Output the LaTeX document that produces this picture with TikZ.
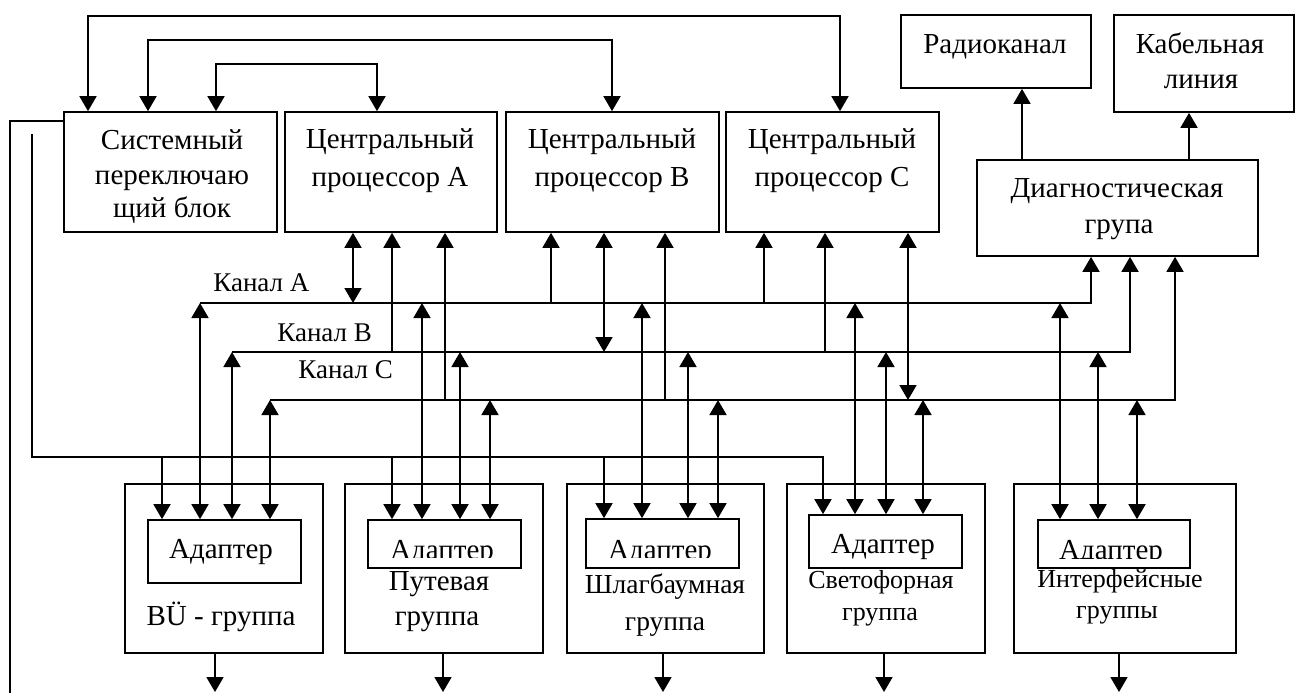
\documentclass[tikz,border=0pt]{standalone}
\usepackage{fontspec}
\setmainfont{Liberation Serif}
\usetikzlibrary{arrows.meta}
\newcommand{\fsMain}{\fontsize{14.5pt}{17pt}\selectfont}
\newcommand{\fsChan}{\fontsize{13.5pt}{16pt}\selectfont}
\newcommand{\fsSmall}{\fontsize{13pt}{16pt}\selectfont}
\newcommand{\fsShl}{\fontsize{13.75pt}{16pt}\selectfont}
\begin{document}
\begin{tikzpicture}[x=0.5pt,y=-0.5pt,
  blk/.style 2 args={draw, line width=0.85pt, inner sep=0pt, minimum width=#1*0.5pt, minimum height=#2*0.5pt},
  txt/.style={inner sep=0pt, anchor=base, font=\fsMain},
  conn/.style={line width=0.85pt, >={Triangle[length=7.5pt,width=8.5pt]}},
]
\useasboundingbox (0,0) rectangle (1295,693);

% ---------- top boxes ----------
\node[blk={213}{120}] (sw)   at (170.5,172) {};
\node[blk={212}{120}] (cpuA) at (391,172) {};
\node[blk={213}{120}] (cpuB) at (612.5,172) {};
\node[blk={213}{120}] (cpuC) at (832.5,172) {};
\node[blk={190}{73}]  (radio) at (996,51.5) {};
\node[blk={180}{97}]  (cable) at (1204,63.5) {};
\node[blk={281}{96}]  (diag) at (1117.5,208) {};

\node[txt] (sw1) at (172,149) {Системный};
\node[txt] (sw2) at (172,184) {переключаю};
\node[txt] (sw3) at (172,217) {щий блок};
\node[txt] (ca1) at (390,148) {Центральный};
\node[txt] (ca2) at (390,186) {процессор A};
\node[txt] (cb1) at (612,148) {Центральный};
\node[txt] (cb2) at (612,186) {процессор B};
\node[txt] (cc1) at (832,148) {Центральный};
\node[txt] (cc2) at (832,186) {процессор C};
\node[txt] (rd1) at (995,53) {Радиоканал};
\node[txt] (cl1) at (1200,53) {Кабельная};
\node[txt] (cl2) at (1201,88) {линия};
\node[txt] (dg1) at (1117,197) {Диагностическая};
\node[txt] (dg2) at (1119,233) {група};

% ---------- bottom boxes ----------
\node[blk={198}{169}] (bu)   at (224,568.5) {};
\node[blk={198}{169}] (put)  at (444,568.5) {};
\node[blk={197}{169}] (shl)  at (665.5,568.5) {};
\node[blk={198}{169}] (svet) at (886,568.5) {};
\node[blk={222}{169}] (intf) at (1125,568.5) {};

\node[blk={153}{63}] (aBU)   at (224.5,551.5) {};
\node[blk={153}{48}] (aPut)  at (444.5,544) {};
\node[blk={153}{49}] (aShl)  at (662.5,543.5) {};
\node[blk={153}{53}] (aSvet) at (885.5,541.5) {};
\node[blk={152}{48}] (aIntf) at (1114,544) {};

\node[txt] (aBUt) at (221,558) {Адаптер};
\begin{scope}
  \clip (369,521) rectangle (520,557);
  \node[txt] (aPutt) at (442,559) {Адаптер};
\end{scope}
\begin{scope}
  \clip (587,520) rectangle (738,557);
  \node[txt] (aShlt) at (660,559) {Адаптер};
\end{scope}
\node[txt] (aSvett) at (883,553) {Адаптер};
\begin{scope}
  \clip (1039,521) rectangle (1189,558);
  \node[txt] (aIntft) at (1111,559) {Адаптер};
\end{scope}

\node[txt] (bu1) at (221,625) {BÜ - группа};
\node[txt] (pu1) at (439,590) {Путевая};
\node[txt] (pu2) at (437,625) {группа};
\node[txt,font=\fsShl] (sh1) at (665,593) {Шлагбаумная};
\node[txt,font=\fsShl] (sh2) at (665,630) {группа};
\node[txt,font=\fsSmall] (sv1) at (881,588) {Светофорная};
\node[txt,font=\fsSmall] (sv2) at (880,620) {группа};
\node[txt,font=\fsSmall] (in1) at (1120,587) {Интерфейсные};
\node[txt,font=\fsSmall] (in2) at (1117,618) {группы};

% ---------- channel labels ----------
\node[txt,font=\fsChan,anchor=base west] (lA) at (213,291) {Канал A};
\node[txt,font=\fsChan,anchor=base west] (lB) at (277,341) {Канал B};
\node[txt,font=\fsChan,anchor=base west] (lC) at (298,378) {Канал C};

% ---------- coordinates ----------
\coordinate (chA) at (200,303);
\coordinate (chB) at (232,352);
\coordinate (chC) at (270,400);
\coordinate (swD) at (32,134);
\coordinate (dBus) at (32,457);
\coordinate (outL) at (10,693);

\begin{scope}[conn]
% top feedback loops
\draw[<->] (sw.north -| 88,0) |- (840,16) -- (cpuC.north -| 840,0);
\draw[<->] (sw.north -| 148,0) |- (612,40) -- (cpuB.north -| 612,0);
\draw[<->] (sw.north -| 216,0) |- (377,64) -- (cpuA.north -| 377,0);

% left lines
\draw (sw.west |- 0,121) -| (outL);
\draw[->] (swD) -- (dBus) -| (aSvet.north -| 823,0);

% channel buses
\draw[->] (chA) -| (diag.south -| 1091,0);
\draw[->] (chB) -| (diag.south -| 1130,0);
\draw[->] (chC) -| (diag.south -| 1175,0);

% CPU connections
\draw[<->] (cpuA.south -| 353,0) -- (353,0 |- chA);
\draw[->] (392,0 |- chB) -- (cpuA.south -| 392,0);
\draw[->] (445,0 |- chC) -- (cpuA.south -| 445,0);
\draw[->] (551,0 |- chA) -- (cpuB.south -| 551,0);
\draw[<->] (cpuB.south -| 604,0) -- (604,0 |- chB);
\draw[->] (665,0 |- chC) -- (cpuB.south -| 665,0);
\draw[->] (764,0 |- chA) -- (cpuC.south -| 764,0);
\draw[->] (825,0 |- chB) -- (cpuC.south -| 825,0);
\draw[<->] (cpuC.south -| 908,0) -- (908,0 |- chC);

% diagnostic outputs
\draw[->] (diag.north -| 1022,0) -- (radio.south -| 1022,0);
\draw[->] (diag.north -| 1189,0) -- (cable.south -| 1189,0);

% BU group
\draw[->] (162,0 |- dBus) -- (aBU.north -| 162,0);
\draw[<->] (chA) -- (aBU.north -| chA);
\draw[<->] (chB) -- (aBU.north -| chB);
\draw[<->] (chC) -- (aBU.north -| chC);
% Putevaya
\draw[->] (392,0 |- dBus) -- (aPut.north -| 392,0);
\draw[<->] (422,0 |- chA) -- (aPut.north -| 422,0);
\draw[<->] (460,0 |- chB) -- (aPut.north -| 460,0);
\draw[<->] (490,0 |- chC) -- (aPut.north -| 490,0);
% Shlagbaum
\draw[->] (604,0 |- dBus) -- (aShl.north -| 604,0);
\draw[<->] (642,0 |- chA) -- (aShl.north -| 642,0);
\draw[<->] (688,0 |- chB) -- (aShl.north -| 688,0);
\draw[<->] (718,0 |- chC) -- (aShl.north -| 718,0);
% Svetofor
\draw[<->] (855,0 |- chA) -- (aSvet.north -| 855,0);
\draw[<->] (886,0 |- chB) -- (aSvet.north -| 886,0);
\draw[<->] (923,0 |- chC) -- (aSvet.north -| 923,0);
% Interface
\draw[<->] (1060,0 |- chA) -- (aIntf.north -| 1060,0);
\draw[<->] (1098,0 |- chB) -- (aIntf.north -| 1098,0);
\draw[<->] (1137,0 |- chC) -- (aIntf.north -| 1137,0);

% outputs
\draw[->] (bu.south -| 215,0) -- (215,692);
\draw[->] (put.south -| 443,0) -- (443,692);
\draw[->] (shl.south -| 663,0) -- (663,692);
\draw[->] (svet.south -| 884,0) -- (884,692);
\draw[->] (intf.south -| 1119,0) -- (1119,692);
\end{scope}
\end{tikzpicture}
\end{document}
